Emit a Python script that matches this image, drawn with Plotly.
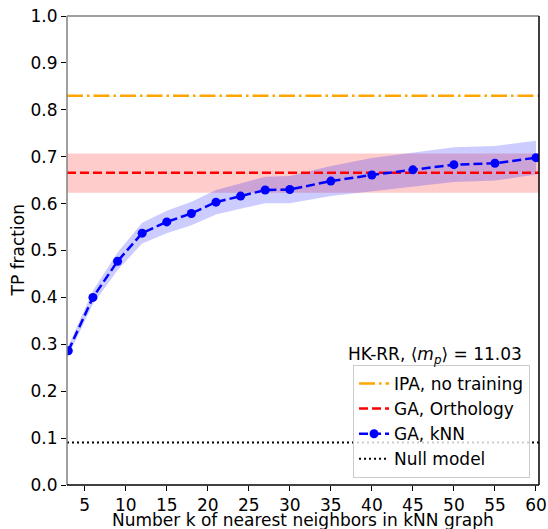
import plotly.graph_objects as go

k_values = [3, 6, 9, 12, 15, 18, 21, 24, 27, 30, 35, 40, 45, 50, 55, 60]
knn_mean = [0.286, 0.400, 0.477, 0.537, 0.561, 0.579, 0.603, 0.616, 0.629, 0.630,
            0.648, 0.661, 0.672, 0.683, 0.686, 0.698]
knn_std = [0.010, 0.014, 0.019, 0.022, 0.024, 0.025, 0.026, 0.027, 0.028, 0.029,
           0.032, 0.036, 0.036, 0.037, 0.037, 0.036]
ipa_value = 0.830
orth_value = 0.666
orth_low = 0.623
orth_high = 0.707
null_value = 1 / 11.03
x_range = [2.84, 60.37]
legend_title = "HK-RR, ⟨<i>m</i><sub><i>p</i></sub>⟩ = 11.03"

FONT = "DejaVu Sans"
FS = 17
fig = go.Figure()

# Orthology band
fig.add_trace(go.Scatter(x=[x_range[0], x_range[1]], y=[orth_low, orth_low], mode="lines",
                         line=dict(width=0), showlegend=False, hoverinfo="skip"))
fig.add_trace(go.Scatter(x=[x_range[0], x_range[1]], y=[orth_high, orth_high], mode="lines",
                         line=dict(width=0), fill="tonexty", fillcolor="rgba(255,0,0,0.2)",
                         showlegend=False, hoverinfo="skip"))
# kNN band
lower = [m - s for m, s in zip(knn_mean, knn_std)]
upper = [m + s for m, s in zip(knn_mean, knn_std)]
fig.add_trace(go.Scatter(x=k_values + k_values[::-1], y=upper + lower[::-1], mode="lines",
                         line=dict(width=0), fill="toself", fillcolor="rgba(0,0,255,0.2)",
                         showlegend=False, hoverinfo="skip"))

fig.add_trace(go.Scatter(x=x_range, y=[ipa_value, ipa_value], mode="lines",
                         line=dict(color="orange", width=2.5, dash="16px,4px,2.5px,4px"),
                         name="IPA, no training"))
fig.add_trace(go.Scatter(x=x_range, y=[orth_value, orth_value], mode="lines",
                         line=dict(color="red", width=2.5, dash="9px,4px"),
                         name="GA, Orthology"))
fig.add_trace(go.Scatter(x=k_values, y=knn_mean, mode="lines+markers",
                         line=dict(color="blue", width=2.5, dash="9px,4px"),
                         marker=dict(color="blue", size=9),
                         name="GA, kNN"))
fig.add_trace(go.Scatter(x=x_range, y=[null_value, null_value], mode="lines",
                         line=dict(color="black", width=2, dash="2px,3px"),
                         name="Null model"))

# spines
fig.add_shape(type="line", xref="paper", yref="paper", x0=0, x1=1, y0=1, y1=1,
              line=dict(color="gray", width=1.5))
fig.add_shape(type="line", xref="paper", yref="paper", x0=0, x1=0, y0=0, y1=1,
              line=dict(color="gray", width=1.5))
fig.add_shape(type="line", xref="paper", yref="paper", x0=1, x1=1, y0=0, y1=1,
              line=dict(color="black", width=1.5))
fig.add_shape(type="line", xref="paper", yref="paper", x0=0, x1=1, y0=0, y1=0,
              line=dict(color="black", width=1.5))

fig.add_annotation(text=legend_title, xref="paper", yref="paper", x=0.78, y=0.277,
                   xanchor="center", yanchor="middle", showarrow=False,
                   font=dict(family=FONT, size=FS, color="black"))
fig.add_annotation(text="TP fraction", xref="paper", yref="paper", x=-0.104, y=0.5,
                   xanchor="center", yanchor="middle", textangle=-90, showarrow=False,
                   font=dict(family=FONT, size=FS, color="black"))
fig.add_annotation(text="Number k of nearest neighbors in kNN graph", xref="paper", yref="paper",
                   x=0.5, y=-0.074, xanchor="center", yanchor="middle", showarrow=False,
                   font=dict(family=FONT, size=FS, color="black"))

fig.update_layout(
    width=548, height=529, autosize=False,
    margin=dict(l=67, r=9, t=16, b=44, autoexpand=False),
    paper_bgcolor="white", plot_bgcolor="white",
    font=dict(family=FONT, size=FS, color="black"),
    showlegend=True,
    legend=dict(x=0.981, y=0.015, xanchor="right", yanchor="bottom", traceorder="normal",
                bgcolor="rgba(255,255,255,0.8)", bordercolor="#cccccc", borderwidth=1,
                font=dict(family=FONT, size=FS), tracegroupgap=0),
    xaxis=dict(range=x_range, tickmode="array", tickvals=list(range(5, 61, 5)),
               showgrid=False, zeroline=False, showline=False, automargin=False,
               ticklabeloverflow="allow",
               ticks="outside", ticklen=5, tickcolor="black", tickwidth=1,
               tickfont=dict(family=FONT, size=FS)),
    yaxis=dict(range=[0, 1], tickmode="array", tickvals=[i / 10 for i in range(11)],
               tickformat=".1f", showgrid=False, zeroline=False, showline=False, automargin=False,
               ticklabeloverflow="allow",
               ticks="outside", ticklen=5, tickcolor="black", tickwidth=1,
               tickfont=dict(family=FONT, size=FS)),
)

fig.write_html(
    "out.html",
    config={"responsive": False, "displayModeBar": False},
    post_script="document.body.style.margin='0';document.body.style.overflow='hidden';",
)
